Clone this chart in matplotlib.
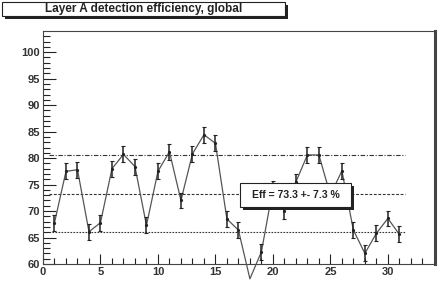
import numpy as np
import matplotlib
matplotlib.use("Agg")
import matplotlib.pyplot as plt
from matplotlib.patches import Rectangle

plt.rcParams['font.family'] = ['Liberation Sans', 'DejaVu Sans']

# data
run = np.arange(1, 32)
eff = [67.8, 77.5, 77.8, 66.1, 67.8, 78.0, 80.7, 78.4, 67.3, 77.5,
       81.2, 72.0, 80.8, 84.4, 82.8, 68.5, 66.4, 57.2, 62.3, 74.2,
       70.0, 75.5, 80.6, 80.6, 73.0, 77.6, 66.4, 62.0, 65.8, 68.6, 65.6]
err = [1.5] * len(run)

mean_eff = 73.3
rms_eff = 7.3
lines_y = [mean_eff + rms_eff, mean_eff, mean_eff - rms_eff]
line_dash = [(0, (4, 1.5, 1, 1.5)), (0, (2.5, 1.5)), (0, (1.5, 1.2))]

W, H = 441, 284
fig = plt.figure(figsize=(W / 100, H / 100), dpi=100)
ax = fig.add_axes([43 / W, 1 - 264 / H, (435 - 43) / W, (264 - 31) / H])

for yv, ls in zip(lines_y, line_dash):
    ax.plot([0.5, 31.5], [yv, yv], color='#333333', lw=0.8, linestyle=ls)

ax.plot(run, eff, color='#555555', lw=0.9, clip_on=False, zorder=3)
ax.errorbar(run, eff, yerr=err, fmt='none', ecolor='#222222', elinewidth=1.1,
            capsize=1.2, capthick=0.8, zorder=4)
ax.plot(run, eff, 'o', color='#222222', ms=1.3, zorder=5)

ax.set_xlim(0, 34.1)
ax.set_ylim(60, 104)
ax.set_xticks(np.arange(0, 35, 5))
ax.set_xticks(np.arange(0, 34, 1), minor=True)
ax.set_yticks(np.arange(60, 101, 5))
ax.set_yticks(np.arange(60, 104, 1), minor=True)
ax.tick_params(axis='both', which='both', direction='in', color='#222222',
               labelsize=8, pad=2)
ax.tick_params(axis='y', which='major', length=9, width=0.8)
ax.tick_params(axis='y', which='minor', length=5, width=0.8)
ax.tick_params(axis='x', which='major', length=7, width=0.8)
ax.tick_params(axis='x', which='minor', length=4, width=0.8)
for lab in ax.get_xticklabels() + ax.get_yticklabels():
    lab.set_fontweight('bold')
    lab.set_color('#333333')
for s in ['left', 'top', 'bottom']:
    ax.spines[s].set_linewidth(0.8)
    ax.spines[s].set_color('#444444')
ax.spines['right'].set_linewidth(2.2)
ax.spines['right'].set_color('#444444')


def shadow_box(x0, y0, x1, y1, text, fs):
    # box given in pixels from the top-left corner
    fx0, fx1 = x0 / W, x1 / W
    fy0, fy1 = 1 - y1 / H, 1 - y0 / H
    sh = Rectangle((fx0 + 3 / W, fy0 - 3 / H), fx1 - fx0, fy1 - fy0,
                   transform=fig.transFigure, facecolor='#222222',
                   edgecolor='none', zorder=9)
    bx = Rectangle((fx0, fy0), fx1 - fx0, fy1 - fy0, transform=fig.transFigure,
                   facecolor='white', edgecolor='#222222', lw=0.8, zorder=10)
    fig.add_artist(sh)
    fig.add_artist(bx)
    fig.text((fx0 + fx1) / 2, (fy0 + fy1) / 2, text, ha='center', va='center',
             fontsize=fs, fontweight='bold', color='#222222', zorder=11)


shadow_box(2, 2, 285, 16, "Layer A detection efficiency, global", 8.5)
shadow_box(240, 183, 351, 207, "Eff = %.1f +- %.1f %%" % (mean_eff, rms_eff), 7.5)

fig.savefig("out.png", dpi=100)
